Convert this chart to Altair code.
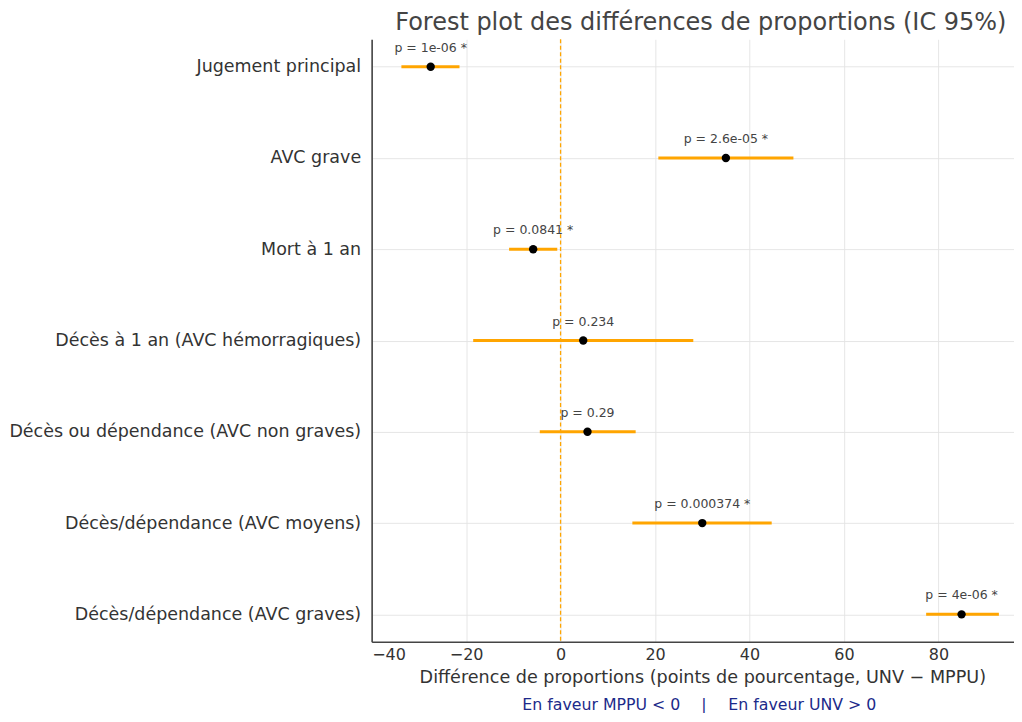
import altair as alt
import pandas as pd

# ---- data ----
labels = [
    "Jugement principal",
    "AVC grave",
    "Mort à 1 an",
    "Décès à 1 an (AVC hémorragiques)",
    "Décès ou dépendance (AVC non graves)",
    "Décès/dépendance (AVC moyens)",
    "Décès/dépendance (AVC graves)",
]
est = [-27.5, 35.0, -5.8, 4.8, 5.7, 30.0, 84.9]
lo = [-33.7, 20.7, -10.9, -18.5, -4.4, 15.2, 77.4]
hi = [-21.4, 49.3, -0.7, 28.1, 15.9, 44.7, 92.8]
ptxt = [
    "p = 1e-06 *",
    "p = 2.6e-05 *",
    "p = 0.0841 *",
    "p = 0.234",
    "p = 0.29",
    "p = 0.000374 *",
    "p = 4e-06 *",
]
x_ticks = [-40, -20, 0, 20, 40, 60, 80]
x_domain = [-40, 96.0]
ref_value = [0]

title_txt = "Forest plot des différences de proportions (IC 95%)"
x_title = "Différence de proportions (points de pourcentage, UNV − MPPU)"
note_left = ["En faveur MPPU < 0"]
note_mid = ["|"]
note_right = ["En faveur UNV > 0"]

# ---- chart ----
df = pd.DataFrame({"label": labels, "est": est, "lo": lo, "hi": hi, "ptxt": ptxt})
W, H = 643, 603
FONT = "DejaVu Sans"
ORANGE = "#FFA500"
NAVY = "#1c2a8a"

xscale = alt.Scale(domain=x_domain, nice=False, zero=False)
yscale = alt.Scale(type="point", padding=0.3)

xaxis = alt.Axis(
    values=x_ticks,
    title=x_title,
    labelFontSize=16,
    titleFontSize=17.6,
    labelPadding=5,
    titlePadding=6,
    titleX=331,
    titleAlign="center",
    ticks=False,
    titleFontWeight="normal",
)
yaxis = alt.Axis(
    title=None,
    labelFontSize=17.5,
    labelPadding=11,
    labelLimit=500,
    ticks=False,
)

base = alt.Chart(df)
yenc = alt.Y("label:N", sort=labels, scale=yscale, axis=yaxis)

ci = base.mark_rule(color=ORANGE, strokeWidth=3).encode(
    x=alt.X("lo:Q", scale=xscale, axis=xaxis),
    x2="hi:Q",
    y=yenc,
)
zero = alt.Chart(pd.DataFrame({"z": ref_value})).mark_rule(
    color=ORANGE, strokeWidth=1.3, strokeDash=[4, 2.5]
).encode(x=alt.X("z:Q", scale=xscale))
pts = base.mark_circle(color="black", size=70, opacity=1).encode(
    x=alt.X("est:Q", scale=xscale), y=yenc
)
txt = base.mark_text(dy=-19, fontSize=12.5, color="#444444", font=FONT).encode(
    x=alt.X("est:Q", scale=xscale), y=yenc, text="ptxt:N"
)

NOTE_FS = 15.8
n1 = alt.Chart(pd.DataFrame({"t": note_left})).mark_text(
    align="right", baseline="middle", fontSize=NOTE_FS, color=NAVY, font=FONT
).encode(x=alt.value(309), y=alt.value(666), text="t:N")
n2 = alt.Chart(pd.DataFrame({"t": note_mid})).mark_text(
    align="center", baseline="middle", fontSize=NOTE_FS, color=NAVY, font=FONT
).encode(x=alt.value(332.5), y=alt.value(666), text="t:N")
n3 = alt.Chart(pd.DataFrame({"t": note_right})).mark_text(
    align="left", baseline="middle", fontSize=NOTE_FS, color=NAVY, font=FONT
).encode(x=alt.value(357), y=alt.value(666), text="t:N")

chart = (
    alt.layer(ci, zero, pts, txt, n1, n2, n3)
    .properties(
        width=W,
        height=H,
        padding={"left": 0, "top": 2, "right": 0, "bottom": 0},
        title=alt.TitleParams(
            text=title_txt,
            fontSize=24,
            font=FONT,
            fontWeight="normal",
            color="#444444",
            anchor="middle",
            offset=4,
            dx=8,
        ),
    )
    .configure_view(stroke=None)
    .configure_axis(
        labelFont=FONT,
        titleFont=FONT,
        labelColor="#333333",
        titleColor="#333333",
        grid=True,
        gridColor="#e3e3e3",
        gridWidth=0.9,
        domainColor="#444444",
        domainWidth=1.6,
    )
)

chart.save("out.html", embed_options={"renderer": "svg", "actions": False})
